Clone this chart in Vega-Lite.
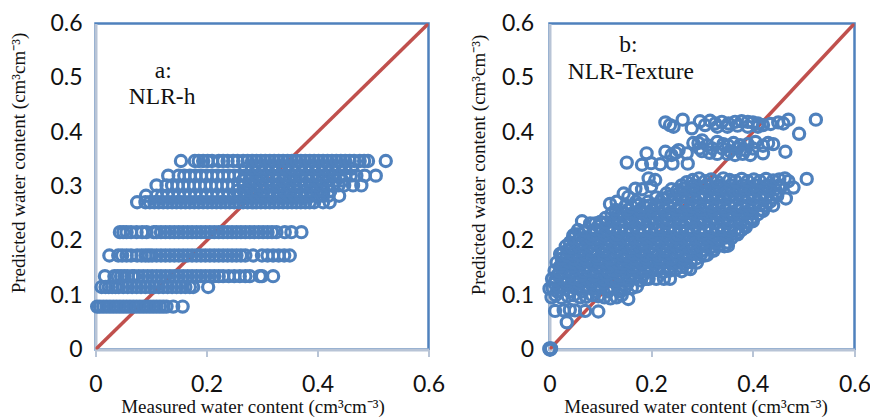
{"$schema":"https://vega.github.io/schema/vega-lite/v6.json","padding":{"left":7.5,"top":10.5,"right":0,"bottom":0},"autosize":{"type":"pad"},"background":"white","bounds":"flush","spacing":121,
"config":{"view":{"stroke":"#4f81bd","strokeWidth":2.5},"concat":{"spacing":121},
"axis":{"grid":false,"domainColor":"#b8c4d6","domainWidth":3,"tickColor":"#b8c4d6","labelFont":"Lato","labelFontSize":23,"labelColor":"#111111","labelFlush":false,"labelOverlap":false,"titleFont":"Liberation Serif","titleFontSize":19,"titleFontWeight":"normal","titleColor":"#111111","titleBaseline":"alphabetic"}},
"datasets":{
"line":[{"x":0,"y":0},{"x":0.6,"y":0.6}],
"ta":[{"x":0.122,"y":0.512,"t":"a:"},{"x":0.12,"y":0.465,"t":"NLR-h"}],
"tb":[{"x":0.155,"y":0.56,"t":"b:"},{"x":0.16,"y":0.511,"t":"NLR-Texture"}],
"a":[
{"x":0.003,"y":0.079},{"x":0.008,"y":0.079},{"x":0.014,"y":0.079},{"x":0.02,"y":0.079},{"x":0.026,"y":0.079},{"x":0.032,"y":0.079},{"x":0.038,"y":0.079},{"x":0.044,"y":0.079},{"x":0.05,"y":0.079},{"x":0.056,"y":0.079},{"x":0.062,"y":0.079},{"x":0.068,"y":0.079},{"x":0.074,"y":0.079},{"x":0.08,"y":0.079},{"x":0.086,"y":0.079},{"x":0.092,"y":0.079},{"x":0.098,"y":0.079},{"x":0.104,"y":0.079},{"x":0.11,"y":0.079},{"x":0.116,"y":0.079},{"x":0.122,"y":0.079},{"x":0.128,"y":0.079},{"x":0.14,"y":0.079},{"x":0.157,"y":0.079},
{"x":0.011,"y":0.115},{"x":0.018,"y":0.115},{"x":0.024,"y":0.115},{"x":0.03,"y":0.115},{"x":0.036,"y":0.115},{"x":0.042,"y":0.115},{"x":0.05,"y":0.115},{"x":0.058,"y":0.115},{"x":0.066,"y":0.115},{"x":0.074,"y":0.115},{"x":0.082,"y":0.115},{"x":0.09,"y":0.115},{"x":0.098,"y":0.115},{"x":0.106,"y":0.115},{"x":0.114,"y":0.115},{"x":0.122,"y":0.115},{"x":0.13,"y":0.115},{"x":0.138,"y":0.115},{"x":0.146,"y":0.115},{"x":0.154,"y":0.115},{"x":0.162,"y":0.115},{"x":0.17,"y":0.115},{"x":0.176,"y":0.115},{"x":0.203,"y":0.115},
{"x":0.017,"y":0.135},{"x":0.034,"y":0.135},{"x":0.04,"y":0.135},{"x":0.046,"y":0.135},{"x":0.052,"y":0.135},{"x":0.058,"y":0.135},{"x":0.066,"y":0.135},{"x":0.07,"y":0.135},{"x":0.078,"y":0.135},{"x":0.086,"y":0.135},{"x":0.094,"y":0.135},{"x":0.102,"y":0.135},{"x":0.11,"y":0.135},{"x":0.118,"y":0.135},{"x":0.126,"y":0.135},{"x":0.134,"y":0.135},{"x":0.142,"y":0.135},{"x":0.15,"y":0.135},{"x":0.158,"y":0.135},{"x":0.166,"y":0.135},{"x":0.174,"y":0.135},{"x":0.182,"y":0.135},{"x":0.19,"y":0.135},{"x":0.198,"y":0.135},{"x":0.206,"y":0.135},{"x":0.214,"y":0.135},{"x":0.222,"y":0.135},{"x":0.23,"y":0.135},{"x":0.24,"y":0.135},{"x":0.25,"y":0.135},{"x":0.26,"y":0.135},{"x":0.27,"y":0.135},{"x":0.278,"y":0.135},{"x":0.296,"y":0.135},{"x":0.3,"y":0.135},{"x":0.32,"y":0.135},
{"x":0.025,"y":0.173},{"x":0.041,"y":0.173},{"x":0.048,"y":0.173},{"x":0.056,"y":0.173},{"x":0.064,"y":0.173},{"x":0.075,"y":0.173},{"x":0.083,"y":0.173},{"x":0.09,"y":0.173},{"x":0.096,"y":0.173},{"x":0.102,"y":0.173},{"x":0.11,"y":0.173},{"x":0.118,"y":0.173},{"x":0.126,"y":0.173},{"x":0.134,"y":0.173},{"x":0.142,"y":0.173},{"x":0.15,"y":0.173},{"x":0.158,"y":0.173},{"x":0.166,"y":0.173},{"x":0.174,"y":0.173},{"x":0.182,"y":0.173},{"x":0.19,"y":0.173},{"x":0.198,"y":0.173},{"x":0.206,"y":0.173},{"x":0.214,"y":0.173},{"x":0.222,"y":0.173},{"x":0.23,"y":0.173},{"x":0.238,"y":0.173},{"x":0.246,"y":0.173},{"x":0.254,"y":0.173},{"x":0.262,"y":0.173},{"x":0.27,"y":0.173},{"x":0.284,"y":0.173},{"x":0.3,"y":0.173},{"x":0.31,"y":0.173},{"x":0.32,"y":0.173},{"x":0.33,"y":0.173},{"x":0.34,"y":0.173},{"x":0.35,"y":0.173},
{"x":0.044,"y":0.216},{"x":0.05,"y":0.216},{"x":0.056,"y":0.216},{"x":0.064,"y":0.216},{"x":0.074,"y":0.216},{"x":0.084,"y":0.216},{"x":0.092,"y":0.216},{"x":0.105,"y":0.216},{"x":0.11,"y":0.216},{"x":0.118,"y":0.216},{"x":0.126,"y":0.216},{"x":0.134,"y":0.216},{"x":0.142,"y":0.216},{"x":0.15,"y":0.216},{"x":0.158,"y":0.216},{"x":0.166,"y":0.216},{"x":0.174,"y":0.216},{"x":0.182,"y":0.216},{"x":0.19,"y":0.216},{"x":0.198,"y":0.216},{"x":0.206,"y":0.216},{"x":0.214,"y":0.216},{"x":0.222,"y":0.216},{"x":0.23,"y":0.216},{"x":0.238,"y":0.216},{"x":0.246,"y":0.216},{"x":0.254,"y":0.216},{"x":0.262,"y":0.216},{"x":0.27,"y":0.216},{"x":0.278,"y":0.216},{"x":0.286,"y":0.216},{"x":0.294,"y":0.216},{"x":0.302,"y":0.216},{"x":0.31,"y":0.216},{"x":0.318,"y":0.216},{"x":0.326,"y":0.216},{"x":0.341,"y":0.216},{"x":0.353,"y":0.216},{"x":0.371,"y":0.216},
{"x":0.075,"y":0.271},{"x":0.09,"y":0.271},{"x":0.098,"y":0.271},{"x":0.106,"y":0.271},{"x":0.114,"y":0.271},{"x":0.122,"y":0.271},{"x":0.13,"y":0.271},{"x":0.138,"y":0.271},{"x":0.146,"y":0.271},{"x":0.154,"y":0.271},{"x":0.162,"y":0.271},{"x":0.17,"y":0.271},{"x":0.178,"y":0.271},{"x":0.186,"y":0.271},{"x":0.194,"y":0.271},{"x":0.202,"y":0.271},{"x":0.21,"y":0.271},{"x":0.218,"y":0.271},{"x":0.226,"y":0.271},{"x":0.234,"y":0.271},{"x":0.242,"y":0.271},{"x":0.25,"y":0.271},{"x":0.258,"y":0.271},{"x":0.266,"y":0.271},{"x":0.274,"y":0.271},{"x":0.282,"y":0.271},{"x":0.29,"y":0.271},{"x":0.298,"y":0.271},{"x":0.306,"y":0.271},{"x":0.314,"y":0.271},{"x":0.322,"y":0.271},{"x":0.33,"y":0.271},{"x":0.338,"y":0.271},{"x":0.346,"y":0.271},{"x":0.354,"y":0.271},{"x":0.362,"y":0.271},{"x":0.37,"y":0.271},{"x":0.378,"y":0.271},{"x":0.386,"y":0.271},{"x":0.394,"y":0.271},{"x":0.41,"y":0.271},{"x":0.422,"y":0.271},
{"x":0.091,"y":0.283},{"x":0.11,"y":0.283},{"x":0.12,"y":0.283},{"x":0.13,"y":0.283},{"x":0.14,"y":0.283},{"x":0.15,"y":0.283},{"x":0.16,"y":0.283},{"x":0.17,"y":0.283},{"x":0.18,"y":0.283},{"x":0.19,"y":0.283},{"x":0.2,"y":0.283},{"x":0.21,"y":0.283},{"x":0.22,"y":0.283},{"x":0.23,"y":0.283},{"x":0.24,"y":0.283},{"x":0.25,"y":0.283},{"x":0.26,"y":0.283},{"x":0.27,"y":0.283},{"x":0.28,"y":0.283},{"x":0.29,"y":0.283},{"x":0.3,"y":0.283},{"x":0.31,"y":0.283},{"x":0.32,"y":0.283},{"x":0.33,"y":0.283},{"x":0.34,"y":0.283},{"x":0.35,"y":0.283},{"x":0.36,"y":0.283},{"x":0.37,"y":0.283},{"x":0.38,"y":0.283},{"x":0.39,"y":0.283},{"x":0.4,"y":0.283},{"x":0.41,"y":0.283},{"x":0.42,"y":0.283},{"x":0.439,"y":0.283},
{"x":0.255,"y":0.292},{"x":0.267,"y":0.292},{"x":0.279,"y":0.292},{"x":0.291,"y":0.292},{"x":0.303,"y":0.292},{"x":0.315,"y":0.292},{"x":0.327,"y":0.292},{"x":0.339,"y":0.292},{"x":0.351,"y":0.292},{"x":0.363,"y":0.292},{"x":0.375,"y":0.292},{"x":0.387,"y":0.292},{"x":0.399,"y":0.292},{"x":0.411,"y":0.292},{"x":0.423,"y":0.292},
{"x":0.11,"y":0.302},{"x":0.128,"y":0.302},{"x":0.138,"y":0.302},{"x":0.148,"y":0.302},{"x":0.158,"y":0.302},{"x":0.168,"y":0.302},{"x":0.178,"y":0.302},{"x":0.188,"y":0.302},{"x":0.198,"y":0.302},{"x":0.208,"y":0.302},{"x":0.218,"y":0.302},{"x":0.228,"y":0.302},{"x":0.238,"y":0.302},{"x":0.248,"y":0.302},{"x":0.258,"y":0.302},{"x":0.268,"y":0.302},{"x":0.278,"y":0.302},{"x":0.288,"y":0.302},{"x":0.298,"y":0.302},{"x":0.308,"y":0.302},{"x":0.318,"y":0.302},{"x":0.328,"y":0.302},{"x":0.338,"y":0.302},{"x":0.348,"y":0.302},{"x":0.358,"y":0.302},{"x":0.368,"y":0.302},{"x":0.378,"y":0.302},{"x":0.388,"y":0.302},{"x":0.398,"y":0.302},{"x":0.408,"y":0.302},{"x":0.418,"y":0.302},{"x":0.428,"y":0.302},{"x":0.438,"y":0.302},{"x":0.448,"y":0.302},{"x":0.464,"y":0.302},{"x":0.479,"y":0.302},
{"x":0.265,"y":0.311},{"x":0.277,"y":0.311},{"x":0.289,"y":0.311},{"x":0.301,"y":0.311},{"x":0.313,"y":0.311},{"x":0.325,"y":0.311},{"x":0.337,"y":0.311},{"x":0.349,"y":0.311},{"x":0.361,"y":0.311},{"x":0.373,"y":0.311},{"x":0.385,"y":0.311},{"x":0.397,"y":0.311},{"x":0.409,"y":0.311},{"x":0.421,"y":0.311},{"x":0.433,"y":0.311},{"x":0.445,"y":0.311},
{"x":0.131,"y":0.32},{"x":0.15,"y":0.32},{"x":0.16,"y":0.32},{"x":0.17,"y":0.32},{"x":0.18,"y":0.32},{"x":0.19,"y":0.32},{"x":0.2,"y":0.32},{"x":0.21,"y":0.32},{"x":0.22,"y":0.32},{"x":0.23,"y":0.32},{"x":0.24,"y":0.32},{"x":0.25,"y":0.32},{"x":0.26,"y":0.32},{"x":0.27,"y":0.32},{"x":0.28,"y":0.32},{"x":0.29,"y":0.32},{"x":0.3,"y":0.32},{"x":0.31,"y":0.32},{"x":0.32,"y":0.32},{"x":0.33,"y":0.32},{"x":0.34,"y":0.32},{"x":0.35,"y":0.32},{"x":0.36,"y":0.32},{"x":0.37,"y":0.32},{"x":0.38,"y":0.32},{"x":0.39,"y":0.32},{"x":0.4,"y":0.32},{"x":0.41,"y":0.32},{"x":0.42,"y":0.32},{"x":0.43,"y":0.32},{"x":0.44,"y":0.32},{"x":0.45,"y":0.32},{"x":0.46,"y":0.32},{"x":0.47,"y":0.32},{"x":0.485,"y":0.32},{"x":0.505,"y":0.32},
{"x":0.27,"y":0.333},{"x":0.282,"y":0.333},{"x":0.294,"y":0.333},{"x":0.306,"y":0.333},{"x":0.318,"y":0.333},{"x":0.33,"y":0.333},{"x":0.342,"y":0.333},{"x":0.354,"y":0.333},{"x":0.366,"y":0.333},{"x":0.378,"y":0.333},{"x":0.39,"y":0.333},{"x":0.402,"y":0.333},{"x":0.414,"y":0.333},{"x":0.426,"y":0.333},{"x":0.438,"y":0.333},{"x":0.45,"y":0.333},{"x":0.462,"y":0.333},
{"x":0.154,"y":0.347},{"x":0.179,"y":0.347},{"x":0.186,"y":0.347},{"x":0.194,"y":0.347},{"x":0.202,"y":0.347},{"x":0.21,"y":0.347},{"x":0.222,"y":0.347},{"x":0.23,"y":0.347},{"x":0.238,"y":0.347},{"x":0.248,"y":0.347},{"x":0.256,"y":0.347},{"x":0.266,"y":0.347},{"x":0.274,"y":0.347},{"x":0.282,"y":0.347},{"x":0.29,"y":0.347},{"x":0.298,"y":0.347},{"x":0.306,"y":0.347},{"x":0.314,"y":0.347},{"x":0.322,"y":0.347},{"x":0.33,"y":0.347},{"x":0.338,"y":0.347},{"x":0.346,"y":0.347},{"x":0.354,"y":0.347},{"x":0.362,"y":0.347},{"x":0.37,"y":0.347},{"x":0.378,"y":0.347},{"x":0.386,"y":0.347},{"x":0.394,"y":0.347},{"x":0.402,"y":0.347},{"x":0.41,"y":0.347},{"x":0.418,"y":0.347},{"x":0.426,"y":0.347},{"x":0.434,"y":0.347},{"x":0.442,"y":0.347},{"x":0.45,"y":0.347},{"x":0.458,"y":0.347},{"x":0.466,"y":0.347},{"x":0.476,"y":0.347},{"x":0.484,"y":0.347},{"x":0.491,"y":0.347},{"x":0.523,"y":0.347}
],
"b":[
{"x":0,"y":0},{"x":0.001,"y":0.001},{"x":0.002,"y":0},{"x":0,"y":0.002},{"x":0.003,"y":0.002},
{"x":0.034,"y":0.05},{"x":0.011,"y":0.071},{"x":0.028,"y":0.072},{"x":0.04,"y":0.073},{"x":0.05,"y":0.072},{"x":0.07,"y":0.071},{"x":0.096,"y":0.07},{"x":0.155,"y":0.093},
{"x":0.228,"y":0.418},{"x":0.237,"y":0.413},{"x":0.244,"y":0.41},{"x":0.262,"y":0.423},{"x":0.28,"y":0.407},{"x":0.296,"y":0.42},{"x":0.306,"y":0.413},{"x":0.316,"y":0.421},{"x":0.326,"y":0.416},{"x":0.339,"y":0.419},{"x":0.352,"y":0.416},{"x":0.365,"y":0.419},{"x":0.378,"y":0.42},{"x":0.39,"y":0.419},{"x":0.4,"y":0.418},{"x":0.41,"y":0.416},{"x":0.42,"y":0.413},{"x":0.435,"y":0.415},{"x":0.45,"y":0.418},{"x":0.46,"y":0.416},{"x":0.47,"y":0.423},{"x":0.524,"y":0.423},{"x":0.491,"y":0.397},
{"x":0.33,"y":0.41},{"x":0.35,"y":0.41},{"x":0.37,"y":0.412},{"x":0.39,"y":0.41},{"x":0.41,"y":0.41},
{"x":0.283,"y":0.38},{"x":0.293,"y":0.38},{"x":0.3,"y":0.385},{"x":0.31,"y":0.376},{"x":0.33,"y":0.382},{"x":0.342,"y":0.378},{"x":0.352,"y":0.375},{"x":0.362,"y":0.38},{"x":0.375,"y":0.376},{"x":0.39,"y":0.378},{"x":0.405,"y":0.382},{"x":0.42,"y":0.375},{"x":0.43,"y":0.38},{"x":0.44,"y":0.378},
{"x":0.295,"y":0.37},{"x":0.32,"y":0.37},{"x":0.34,"y":0.37},{"x":0.355,"y":0.365},{"x":0.37,"y":0.37},{"x":0.385,"y":0.367},{"x":0.4,"y":0.37},
{"x":0.3,"y":0.365},{"x":0.315,"y":0.362},{"x":0.33,"y":0.36},{"x":0.35,"y":0.36},{"x":0.365,"y":0.358},{"x":0.38,"y":0.36},{"x":0.395,"y":0.358},{"x":0.42,"y":0.361},{"x":0.464,"y":0.364},
{"x":0.152,"y":0.344},{"x":0.182,"y":0.34},{"x":0.191,"y":0.361},{"x":0.2,"y":0.343},{"x":0.218,"y":0.341},{"x":0.228,"y":0.364},{"x":0.24,"y":0.358},{"x":0.242,"y":0.342},{"x":0.254,"y":0.367},{"x":0.27,"y":0.361},{"x":0.272,"y":0.342},{"x":0.248,"y":0.362},
{"x":0.195,"y":0.315},{"x":0.208,"y":0.312},{"x":0.2,"y":0.3},{"x":0.169,"y":0.296},{"x":0.182,"y":0.295},{"x":0.146,"y":0.287},{"x":0.155,"y":0.281},{"x":0.119,"y":0.268},{"x":0.132,"y":0.272},{"x":0.064,"y":0.236},{"x":0.08,"y":0.232},{"x":0.09,"y":0.232},{"x":0.047,"y":0.21},{"x":0.05,"y":0.212},{"x":0.021,"y":0.176},{"x":0.026,"y":0.178},
{"x":0.506,"y":0.314},{"x":0.48,"y":0.298},{"x":0.465,"y":0.278},{"x":0.44,"y":0.265},{"x":0.42,"y":0.255},{"x":0.398,"y":0.24},{"x":0.372,"y":0.216},{"x":0.351,"y":0.191},{"x":0.323,"y":0.182},{"x":0.305,"y":0.173},{"x":0.277,"y":0.148},{"x":0.237,"y":0.13},{"x":0.195,"y":0.13},{"x":0.21,"y":0.13},{"x":0.225,"y":0.13},
{"x":0,"y":0.112},{"x":0.004,"y":0.096},{"x":0.012,"y":0.1},{"x":0.024,"y":0.095},{"x":0.036,"y":0.098},{"x":0.048,"y":0.1},{"x":0.06,"y":0.096},{"x":0.072,"y":0.097},{"x":0.084,"y":0.1},{"x":0.096,"y":0.098},{"x":0.108,"y":0.096},{"x":0.12,"y":0.094},{"x":0.132,"y":0.096},{"x":0.142,"y":0.1},
{"x":0.015,"y":0.107},{"x":0.04,"y":0.107},{"x":0.065,"y":0.107},{"x":0.09,"y":0.107},{"x":0.115,"y":0.107},{"x":0.14,"y":0.107},
{"x":0.006,"y":0.113},{"x":0.018,"y":0.115},{"x":0.03,"y":0.112},{"x":0.042,"y":0.116},{"x":0.054,"y":0.114},{"x":0.066,"y":0.112},{"x":0.078,"y":0.115},{"x":0.09,"y":0.113},{"x":0.102,"y":0.116},{"x":0.114,"y":0.112},{"x":0.126,"y":0.114},{"x":0.138,"y":0.112},{"x":0.15,"y":0.115},{"x":0.162,"y":0.113},{"x":0.172,"y":0.116},
{"x":0.01,"y":0.122},{"x":0.034,"y":0.122},{"x":0.058,"y":0.122},{"x":0.082,"y":0.122},{"x":0.106,"y":0.122},{"x":0.13,"y":0.122},{"x":0.154,"y":0.122},
{"x":0.005,"y":0.13},{"x":0.012,"y":0.128},{"x":0.024,"y":0.131},{"x":0.036,"y":0.127},{"x":0.048,"y":0.13},{"x":0.06,"y":0.128},{"x":0.072,"y":0.131},{"x":0.084,"y":0.127},{"x":0.096,"y":0.13},{"x":0.108,"y":0.128},{"x":0.12,"y":0.131},{"x":0.132,"y":0.127},{"x":0.144,"y":0.13},{"x":0.156,"y":0.128},{"x":0.168,"y":0.131},{"x":0.18,"y":0.127},{"x":0.19,"y":0.13},
{"x":0.016,"y":0.137},{"x":0.04,"y":0.137},{"x":0.064,"y":0.137},{"x":0.088,"y":0.137},{"x":0.112,"y":0.137},{"x":0.136,"y":0.137},{"x":0.16,"y":0.137},{"x":0.184,"y":0.137},
{"x":0.01,"y":0.145},{"x":0.02,"y":0.143},{"x":0.032,"y":0.146},{"x":0.044,"y":0.144},{"x":0.056,"y":0.147},{"x":0.068,"y":0.143},{"x":0.08,"y":0.145},{"x":0.092,"y":0.144},{"x":0.104,"y":0.146},{"x":0.116,"y":0.143},{"x":0.128,"y":0.145},{"x":0.14,"y":0.147},{"x":0.152,"y":0.144},{"x":0.164,"y":0.146},{"x":0.176,"y":0.143},{"x":0.188,"y":0.145},{"x":0.2,"y":0.144},{"x":0.212,"y":0.146},{"x":0.224,"y":0.143},{"x":0.236,"y":0.145},{"x":0.248,"y":0.147},{"x":0.26,"y":0.144},{"x":0.27,"y":0.15},
{"x":0.02,"y":0.152},{"x":0.044,"y":0.152},{"x":0.068,"y":0.152},{"x":0.092,"y":0.152},{"x":0.116,"y":0.152},{"x":0.14,"y":0.152},{"x":0.164,"y":0.152},{"x":0.188,"y":0.152},{"x":0.212,"y":0.152},{"x":0.236,"y":0.152},{"x":0.26,"y":0.152},
{"x":0.014,"y":0.16},{"x":0.026,"y":0.158},{"x":0.038,"y":0.161},{"x":0.05,"y":0.159},{"x":0.062,"y":0.16},{"x":0.074,"y":0.162},{"x":0.086,"y":0.158},{"x":0.098,"y":0.16},{"x":0.11,"y":0.161},{"x":0.122,"y":0.159},{"x":0.134,"y":0.16},{"x":0.146,"y":0.158},{"x":0.158,"y":0.161},{"x":0.17,"y":0.16},{"x":0.182,"y":0.159},{"x":0.194,"y":0.161},{"x":0.206,"y":0.158},{"x":0.218,"y":0.16},{"x":0.23,"y":0.161},{"x":0.242,"y":0.159},{"x":0.254,"y":0.16},{"x":0.266,"y":0.158},{"x":0.278,"y":0.161},{"x":0.29,"y":0.16},
{"x":0.024,"y":0.167},{"x":0.048,"y":0.167},{"x":0.072,"y":0.167},{"x":0.096,"y":0.167},{"x":0.12,"y":0.167},{"x":0.144,"y":0.167},{"x":0.168,"y":0.167},{"x":0.192,"y":0.167},{"x":0.216,"y":0.167},{"x":0.24,"y":0.167},{"x":0.264,"y":0.167},{"x":0.288,"y":0.167},
{"x":0.022,"y":0.175},{"x":0.034,"y":0.173},{"x":0.046,"y":0.176},{"x":0.058,"y":0.174},{"x":0.07,"y":0.175},{"x":0.082,"y":0.177},{"x":0.094,"y":0.173},{"x":0.106,"y":0.175},{"x":0.118,"y":0.176},{"x":0.13,"y":0.174},{"x":0.142,"y":0.175},{"x":0.154,"y":0.173},{"x":0.166,"y":0.176},{"x":0.178,"y":0.175},{"x":0.19,"y":0.174},{"x":0.202,"y":0.176},{"x":0.214,"y":0.173},{"x":0.226,"y":0.175},{"x":0.238,"y":0.176},{"x":0.25,"y":0.174},{"x":0.262,"y":0.175},{"x":0.274,"y":0.173},{"x":0.286,"y":0.176},{"x":0.298,"y":0.175},{"x":0.31,"y":0.174},
{"x":0.035,"y":0.182},{"x":0.059,"y":0.182},{"x":0.083,"y":0.182},{"x":0.107,"y":0.182},{"x":0.131,"y":0.182},{"x":0.155,"y":0.182},{"x":0.179,"y":0.182},{"x":0.203,"y":0.182},{"x":0.227,"y":0.182},{"x":0.251,"y":0.182},{"x":0.275,"y":0.182},{"x":0.299,"y":0.182},{"x":0.32,"y":0.182},
{"x":0.032,"y":0.19},{"x":0.044,"y":0.188},{"x":0.056,"y":0.191},{"x":0.068,"y":0.189},{"x":0.08,"y":0.19},{"x":0.092,"y":0.192},{"x":0.104,"y":0.188},{"x":0.116,"y":0.19},{"x":0.128,"y":0.191},{"x":0.14,"y":0.189},{"x":0.152,"y":0.19},{"x":0.164,"y":0.188},{"x":0.176,"y":0.191},{"x":0.188,"y":0.19},{"x":0.2,"y":0.189},{"x":0.212,"y":0.191},{"x":0.224,"y":0.188},{"x":0.236,"y":0.19},{"x":0.248,"y":0.191},{"x":0.26,"y":0.189},{"x":0.272,"y":0.19},{"x":0.284,"y":0.188},{"x":0.296,"y":0.191},{"x":0.308,"y":0.19},{"x":0.32,"y":0.189},{"x":0.332,"y":0.191},{"x":0.344,"y":0.19},
{"x":0.04,"y":0.197},{"x":0.064,"y":0.197},{"x":0.088,"y":0.197},{"x":0.112,"y":0.197},{"x":0.136,"y":0.197},{"x":0.16,"y":0.197},{"x":0.184,"y":0.197},{"x":0.208,"y":0.197},{"x":0.232,"y":0.197},{"x":0.256,"y":0.197},{"x":0.28,"y":0.197},{"x":0.304,"y":0.197},{"x":0.328,"y":0.197},{"x":0.35,"y":0.197},
{"x":0.046,"y":0.205},{"x":0.058,"y":0.203},{"x":0.07,"y":0.206},{"x":0.082,"y":0.204},{"x":0.094,"y":0.205},{"x":0.106,"y":0.207},{"x":0.118,"y":0.203},{"x":0.13,"y":0.205},{"x":0.142,"y":0.206},{"x":0.154,"y":0.204},{"x":0.166,"y":0.205},{"x":0.178,"y":0.203},{"x":0.19,"y":0.206},{"x":0.202,"y":0.205},{"x":0.214,"y":0.204},{"x":0.226,"y":0.206},{"x":0.238,"y":0.203},{"x":0.25,"y":0.205},{"x":0.262,"y":0.206},{"x":0.274,"y":0.204},{"x":0.286,"y":0.205},{"x":0.298,"y":0.203},{"x":0.31,"y":0.206},{"x":0.322,"y":0.205},{"x":0.334,"y":0.204},{"x":0.346,"y":0.206},{"x":0.358,"y":0.205},
{"x":0.06,"y":0.212},{"x":0.084,"y":0.212},{"x":0.108,"y":0.212},{"x":0.132,"y":0.212},{"x":0.156,"y":0.212},{"x":0.18,"y":0.212},{"x":0.204,"y":0.212},{"x":0.228,"y":0.212},{"x":0.252,"y":0.212},{"x":0.276,"y":0.212},{"x":0.3,"y":0.212},{"x":0.324,"y":0.212},{"x":0.348,"y":0.212},{"x":0.37,"y":0.212},
{"x":0.056,"y":0.22},{"x":0.07,"y":0.218},{"x":0.09,"y":0.221},{"x":0.102,"y":0.219},{"x":0.114,"y":0.22},{"x":0.126,"y":0.222},{"x":0.138,"y":0.218},{"x":0.15,"y":0.22},{"x":0.162,"y":0.221},{"x":0.174,"y":0.219},{"x":0.186,"y":0.22},{"x":0.198,"y":0.218},{"x":0.21,"y":0.221},{"x":0.222,"y":0.22},{"x":0.234,"y":0.219},{"x":0.246,"y":0.221},{"x":0.258,"y":0.218},{"x":0.27,"y":0.22},{"x":0.282,"y":0.221},{"x":0.294,"y":0.219},{"x":0.306,"y":0.22},{"x":0.318,"y":0.218},{"x":0.33,"y":0.221},{"x":0.342,"y":0.22},{"x":0.354,"y":0.219},{"x":0.366,"y":0.221},{"x":0.378,"y":0.22},{"x":0.386,"y":0.225},
{"x":0.096,"y":0.227},{"x":0.12,"y":0.227},{"x":0.144,"y":0.227},{"x":0.168,"y":0.227},{"x":0.192,"y":0.227},{"x":0.216,"y":0.227},{"x":0.24,"y":0.227},{"x":0.264,"y":0.227},{"x":0.288,"y":0.227},{"x":0.312,"y":0.227},{"x":0.336,"y":0.227},{"x":0.36,"y":0.227},{"x":0.384,"y":0.227},
{"x":0.1,"y":0.235},{"x":0.112,"y":0.233},{"x":0.124,"y":0.236},{"x":0.136,"y":0.234},{"x":0.148,"y":0.235},{"x":0.16,"y":0.237},{"x":0.172,"y":0.233},{"x":0.184,"y":0.235},{"x":0.196,"y":0.236},{"x":0.208,"y":0.234},{"x":0.22,"y":0.235},{"x":0.232,"y":0.233},{"x":0.244,"y":0.236},{"x":0.256,"y":0.235},{"x":0.268,"y":0.234},{"x":0.28,"y":0.236},{"x":0.292,"y":0.233},{"x":0.304,"y":0.235},{"x":0.316,"y":0.236},{"x":0.328,"y":0.234},{"x":0.34,"y":0.235},{"x":0.352,"y":0.233},{"x":0.364,"y":0.236},{"x":0.376,"y":0.235},{"x":0.388,"y":0.234},{"x":0.4,"y":0.236},
{"x":0.11,"y":0.242},{"x":0.134,"y":0.242},{"x":0.158,"y":0.242},{"x":0.182,"y":0.242},{"x":0.206,"y":0.242},{"x":0.23,"y":0.242},{"x":0.254,"y":0.242},{"x":0.278,"y":0.242},{"x":0.302,"y":0.242},{"x":0.326,"y":0.242},{"x":0.35,"y":0.242},{"x":0.374,"y":0.242},{"x":0.398,"y":0.242},
{"x":0.122,"y":0.25},{"x":0.134,"y":0.248},{"x":0.146,"y":0.251},{"x":0.158,"y":0.249},{"x":0.17,"y":0.25},{"x":0.182,"y":0.252},{"x":0.194,"y":0.248},{"x":0.206,"y":0.25},{"x":0.218,"y":0.251},{"x":0.23,"y":0.249},{"x":0.242,"y":0.25},{"x":0.254,"y":0.248},{"x":0.266,"y":0.251},{"x":0.278,"y":0.25},{"x":0.29,"y":0.249},{"x":0.302,"y":0.251},{"x":0.314,"y":0.248},{"x":0.326,"y":0.25},{"x":0.338,"y":0.251},{"x":0.35,"y":0.249},{"x":0.362,"y":0.25},{"x":0.374,"y":0.248},{"x":0.386,"y":0.251},{"x":0.398,"y":0.25},{"x":0.41,"y":0.249},
{"x":0.13,"y":0.257},{"x":0.154,"y":0.257},{"x":0.178,"y":0.257},{"x":0.202,"y":0.257},{"x":0.226,"y":0.257},{"x":0.25,"y":0.257},{"x":0.274,"y":0.257},{"x":0.298,"y":0.257},{"x":0.322,"y":0.257},{"x":0.346,"y":0.257},{"x":0.37,"y":0.257},{"x":0.394,"y":0.257},{"x":0.418,"y":0.257},
{"x":0.15,"y":0.265},{"x":0.162,"y":0.263},{"x":0.174,"y":0.266},{"x":0.186,"y":0.264},{"x":0.198,"y":0.265},{"x":0.21,"y":0.267},{"x":0.222,"y":0.263},{"x":0.234,"y":0.265},{"x":0.246,"y":0.266},{"x":0.258,"y":0.264},{"x":0.27,"y":0.265},{"x":0.282,"y":0.263},{"x":0.294,"y":0.266},{"x":0.306,"y":0.265},{"x":0.318,"y":0.264},{"x":0.33,"y":0.266},{"x":0.342,"y":0.263},{"x":0.354,"y":0.265},{"x":0.366,"y":0.266},{"x":0.378,"y":0.264},{"x":0.39,"y":0.265},{"x":0.402,"y":0.263},{"x":0.414,"y":0.266},{"x":0.426,"y":0.265},
{"x":0.17,"y":0.272},{"x":0.194,"y":0.272},{"x":0.218,"y":0.272},{"x":0.242,"y":0.272},{"x":0.266,"y":0.272},{"x":0.29,"y":0.272},{"x":0.314,"y":0.272},{"x":0.338,"y":0.272},{"x":0.362,"y":0.272},{"x":0.386,"y":0.272},{"x":0.41,"y":0.272},{"x":0.434,"y":0.272},
{"x":0.21,"y":0.28},{"x":0.222,"y":0.278},{"x":0.234,"y":0.281},{"x":0.246,"y":0.279},{"x":0.258,"y":0.28},{"x":0.27,"y":0.282},{"x":0.282,"y":0.278},{"x":0.294,"y":0.28},{"x":0.306,"y":0.281},{"x":0.318,"y":0.279},{"x":0.33,"y":0.28},{"x":0.342,"y":0.278},{"x":0.354,"y":0.281},{"x":0.366,"y":0.28},{"x":0.378,"y":0.279},{"x":0.39,"y":0.281},{"x":0.402,"y":0.278},{"x":0.414,"y":0.28},{"x":0.426,"y":0.281},{"x":0.438,"y":0.279},{"x":0.448,"y":0.283},
{"x":0.23,"y":0.287},{"x":0.254,"y":0.287},{"x":0.278,"y":0.287},{"x":0.302,"y":0.287},{"x":0.326,"y":0.287},{"x":0.35,"y":0.287},{"x":0.374,"y":0.287},{"x":0.398,"y":0.287},{"x":0.422,"y":0.287},{"x":0.446,"y":0.287},
{"x":0.24,"y":0.295},{"x":0.252,"y":0.293},{"x":0.264,"y":0.296},{"x":0.276,"y":0.294},{"x":0.288,"y":0.295},{"x":0.3,"y":0.297},{"x":0.312,"y":0.293},{"x":0.324,"y":0.295},{"x":0.336,"y":0.296},{"x":0.348,"y":0.294},{"x":0.36,"y":0.295},{"x":0.372,"y":0.293},{"x":0.384,"y":0.296},{"x":0.396,"y":0.295},{"x":0.408,"y":0.294},{"x":0.42,"y":0.296},{"x":0.432,"y":0.293},{"x":0.444,"y":0.295},{"x":0.456,"y":0.3},
{"x":0.26,"y":0.302},{"x":0.284,"y":0.302},{"x":0.308,"y":0.302},{"x":0.332,"y":0.302},{"x":0.356,"y":0.302},{"x":0.38,"y":0.302},{"x":0.404,"y":0.302},{"x":0.428,"y":0.302},{"x":0.452,"y":0.302},
{"x":0.27,"y":0.308},{"x":0.282,"y":0.312},{"x":0.294,"y":0.315},{"x":0.306,"y":0.31},{"x":0.318,"y":0.313},{"x":0.33,"y":0.309},{"x":0.342,"y":0.315},{"x":0.354,"y":0.312},{"x":0.366,"y":0.31},{"x":0.378,"y":0.314},{"x":0.39,"y":0.31},{"x":0.402,"y":0.313},{"x":0.414,"y":0.31},{"x":0.426,"y":0.314},{"x":0.44,"y":0.311},{"x":0.452,"y":0.313},{"x":0.463,"y":0.315},{"x":0.47,"y":0.31}
]},
"hconcat":[
{"width":333,"height":326,"layer":[
{"data":{"name":"line"},"mark":{"type":"line","color":"#c0504d","strokeWidth":3.5,"clip":true},"encoding":{"x":{"field":"x","type":"quantitative","scale":{"domain":[0,0.6]},"axis":{"values":[0,0.2,0.4,0.6],"format":"~g","tickSize":7,"tickWidth":2,"labelPadding":17,"title":"Measured water content (cm³cm⁻³)","titleX":157,"titleY":63}},"y":{"field":"y","type":"quantitative","scale":{"domain":[0,0.6]},"axis":{"values":[0,0.1,0.2,0.3,0.4,0.5,0.6],"format":"~g","ticks":false,"labelPadding":13.5,"title":"Predicted water content (cm³cm⁻³)","titleX":-71.5,"titleY":139}}}},
{"data":{"name":"a"},"mark":{"type":"point","shape":"circle","filled":false,"size":125,"strokeWidth":3.2,"color":"#4f81bd","opacity":1},"encoding":{"x":{"field":"x","type":"quantitative"},"y":{"field":"y","type":"quantitative"}}},
{"data":{"name":"ta"},"mark":{"type":"text","font":"Liberation Serif","fontSize":23.5,"color":"#111111"},"encoding":{"x":{"field":"x","type":"quantitative"},"y":{"field":"y","type":"quantitative"},"text":{"field":"t"}}}
]},
{"width":305,"height":326,"layer":[
{"data":{"name":"line"},"mark":{"type":"line","color":"#c0504d","strokeWidth":3.5,"clip":true},"encoding":{"x":{"field":"x","type":"quantitative","scale":{"domain":[0,0.6]},"axis":{"values":[0,0.2,0.4,0.6],"format":"~g","tickSize":7,"tickWidth":2,"labelPadding":17,"title":"Measured water content (cm³cm⁻³)","titleX":146,"titleY":63}},"y":{"field":"y","type":"quantitative","scale":{"domain":[0,0.6]},"axis":{"values":[0,0.1,0.2,0.3,0.4,0.5,0.6],"format":"~g","ticks":false,"labelPadding":16,"title":"Predicted water content (cm³cm⁻³)","titleX":-65,"titleY":141}}}},
{"data":{"name":"b"},"mark":{"type":"point","shape":"circle","filled":false,"size":125,"strokeWidth":3.2,"color":"#4f81bd","opacity":1},"encoding":{"x":{"field":"x","type":"quantitative"},"y":{"field":"y","type":"quantitative"}}},
{"data":{"name":"tb"},"mark":{"type":"text","font":"Liberation Serif","fontSize":23.5,"color":"#111111"},"encoding":{"x":{"field":"x","type":"quantitative"},"y":{"field":"y","type":"quantitative"},"text":{"field":"t"}}}
]}
]}
